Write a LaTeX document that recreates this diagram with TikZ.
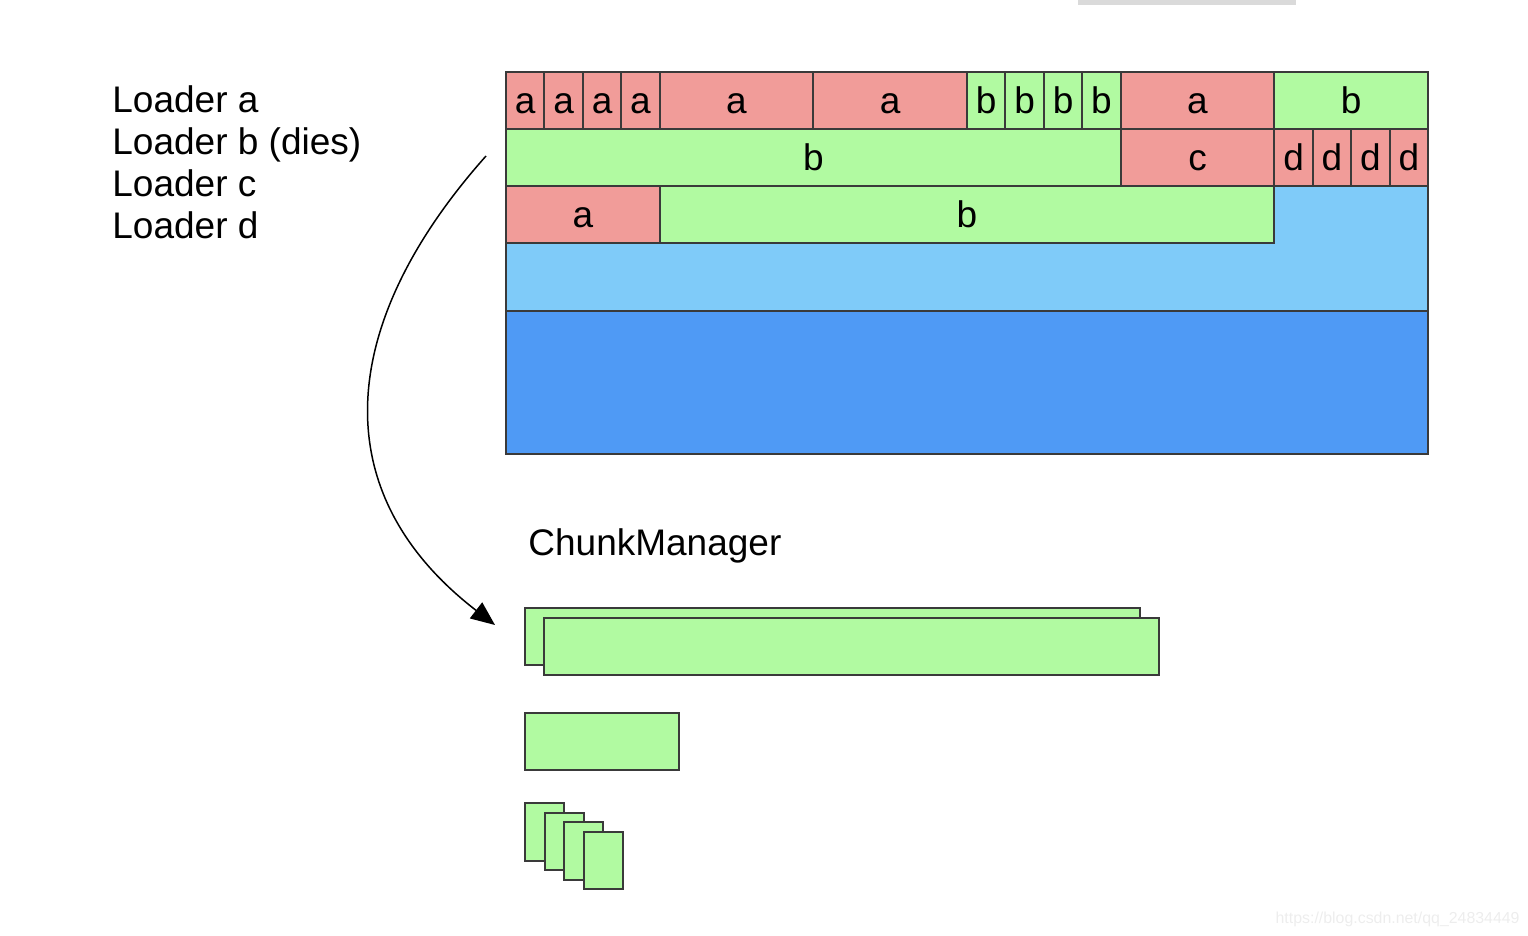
\documentclass[tikz,border=0pt]{standalone}
\usepackage{fontspec}
\setmainfont{Liberation Sans}
\usetikzlibrary{arrows.meta}
\definecolor{pinkc}{HTML}{F19C99}
\definecolor{greenc}{HTML}{B1FAA1}
\definecolor{lblue}{HTML}{7FCBF9}
\definecolor{dblue}{HTML}{4F9AF5}
\definecolor{bord}{HTML}{3A3A3A}
\definecolor{topbar}{HTML}{DADADA}
\definecolor{wm}{HTML}{EDEDED}
\newcommand\mcell[6]{\node[cellstyle, fill=#6, minimum width={(#3-#2)*19.2083pt}, anchor=north west] (#1) at ({505+#2*38.4167},{71+#4*57}) {#5};}
\tikzset{
  cellstyle/.style={draw=bord, line width=1pt, inner sep=0pt, minimum height=28.5pt,
    text height=13.5pt, text depth=0pt, font=\fontsize{18.5}{22}\selectfont},
  chunk/.style={draw=bord, fill=greenc, line width=1pt, inner sep=0pt, anchor=north west},
  lbl/.style={anchor=base west, inner sep=0pt, font=\fontsize{18.5}{22}\selectfont},
  conn/.style={line width=0.75pt, -{Triangle[length=12pt,width=10pt]}}
}
\begin{document}
\begin{tikzpicture}[x=0.5pt,y=-0.5pt]
\useasboundingbox (0,0) rectangle (1528,936);
% top grey bar
\fill[topbar] (1078,0) rectangle (1296,5);
% loader labels
\node[lbl] (la) at (112,113) {Loader a};
\node[lbl] (lb) at (112,155) {Loader b (dies)};
\node[lbl] (lc) at (112,197) {Loader c};
\node[lbl] (ld) at (112,239) {Loader d};
% background blocks
\node[draw=bord, fill=lblue, line width=1pt, inner sep=0pt, anchor=north west,
  minimum width=461pt, minimum height=119.5pt] (lightblk) at (505,71) {};
\node[draw=bord, fill=dblue, line width=1pt, inner sep=0pt, anchor=north west,
  minimum width=461pt, minimum height=71.5pt] (darkblk) at (505,310) {};
% row 0
\mcell{r0a}{0}{1}{0}{a}{pinkc}
\mcell{r0b}{1}{2}{0}{a}{pinkc}
\mcell{r0c}{2}{3}{0}{a}{pinkc}
\mcell{r0d}{3}{4}{0}{a}{pinkc}
\mcell{r0e}{4}{8}{0}{a}{pinkc}
\mcell{r0f}{8}{12}{0}{a}{pinkc}
\mcell{r0g}{12}{13}{0}{b}{greenc}
\mcell{r0h}{13}{14}{0}{b}{greenc}
\mcell{r0i}{14}{15}{0}{b}{greenc}
\mcell{r0j}{15}{16}{0}{b}{greenc}
\mcell{r0k}{16}{20}{0}{a}{pinkc}
\mcell{r0l}{20}{24}{0}{b}{greenc}
% row 1
\mcell{r1a}{0}{16}{1}{b}{greenc}
\mcell{r1b}{16}{20}{1}{c}{pinkc}
\mcell{r1c}{20}{21}{1}{d}{pinkc}
\mcell{r1d}{21}{22}{1}{d}{pinkc}
\mcell{r1e}{22}{23}{1}{d}{pinkc}
\mcell{r1f}{23}{24}{1}{d}{pinkc}
% row 2
\mcell{r2a}{0}{4}{2}{a}{pinkc}
\mcell{r2b}{4}{20}{2}{b}{greenc}
% chunk manager
\node[lbl] (cm) at (528,555) {ChunkManager};
\node[chunk, minimum width=307.5pt, minimum height=28.5pt] (big1) at (524,607) {};
\node[chunk, minimum width=307.5pt, minimum height=28.5pt] (big2) at (543,617) {};
\node[chunk, minimum width=77pt, minimum height=28.5pt] (mid) at (524,712) {};
\node[chunk, minimum width=19.5pt, minimum height=28.75pt] (s1) at (524,802) {};
\node[chunk, minimum width=19.5pt, minimum height=28.75pt] (s2) at (543.5,811.5) {};
\node[chunk, minimum width=19.5pt, minimum height=28.75pt] (s3) at (563,821) {};
\node[chunk, minimum width=19.5pt, minimum height=28.75pt] (s4) at (582.5,830.5) {};
% arrow
\coordinate (arrS) at (486,156);
\coordinate (arrE) at (495,625);
\draw[conn] (arrS) .. controls (340,320) and (320,490) .. (arrE);
% watermark
\node[anchor=base east, inner sep=0pt, text=wm, font=\fontsize{7.95}{9}\selectfont] (wmk) at (1520,923) {https://blog.csdn.net/qq\_24834449};
\end{tikzpicture}
\end{document}
